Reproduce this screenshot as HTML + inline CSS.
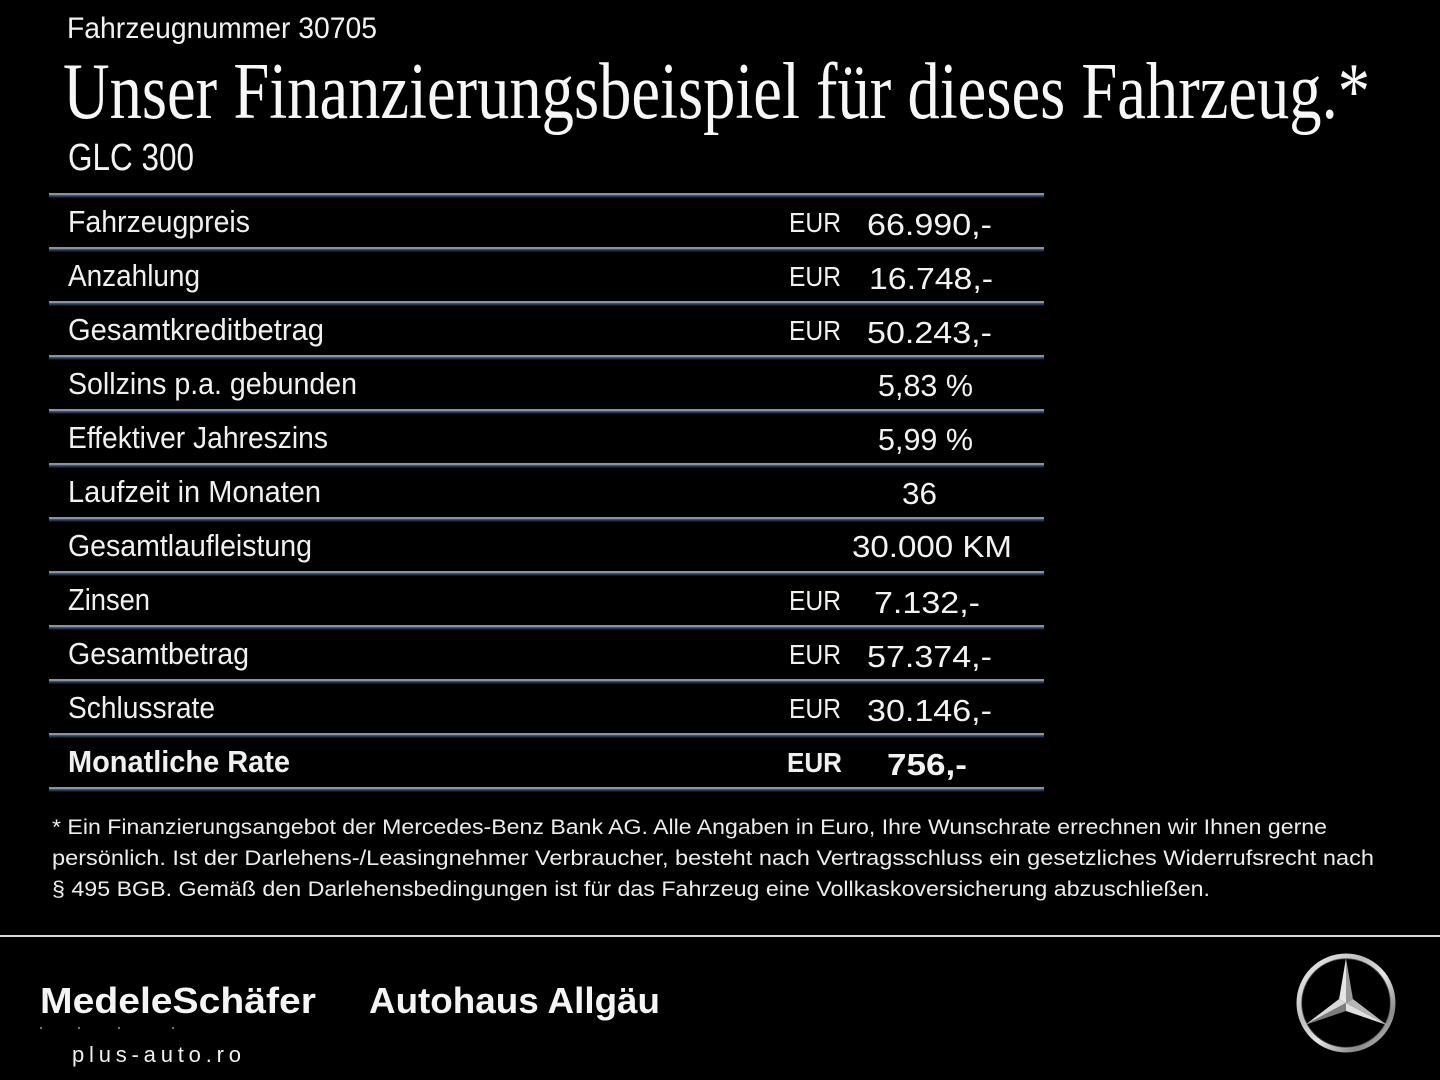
<!DOCTYPE html>
<html>
<head>
<meta charset="utf-8">
<style>
  html,body{margin:0;padding:0;background:#000;}
  body{width:1440px;height:1080px;overflow:hidden;}
  svg{display:block;}
  .sans{font-family:"Liberation Sans",sans-serif;}
  .serif{font-family:"Liberation Serif",serif;}
</style>
</head>
<body>
<svg width="1440" height="1080" viewBox="0 0 1440 1080" xmlns="http://www.w3.org/2000/svg">
  <defs>
    <linearGradient id="ring" x1="0" y1="0" x2="1" y2="1">
      <stop offset="0" stop-color="#f4f4f4"/>
      <stop offset="0.35" stop-color="#bdbdbd"/>
      <stop offset="0.55" stop-color="#e6e6e6"/>
      <stop offset="0.8" stop-color="#8a8a8a"/>
      <stop offset="1" stop-color="#d0d0d0"/>
    </linearGradient>
  </defs>
  <rect width="1440" height="1080" fill="#000"/>

  <!-- header -->
  <text class="sans" x="67" y="38" font-size="30" fill="#f2f2f2" textLength="310" lengthAdjust="spacingAndGlyphs">Fahrzeugnummer 30705</text>
  <text class="serif" x="63" y="118" font-size="80" fill="#f7f7f7" textLength="1307" lengthAdjust="spacingAndGlyphs">Unser Finanzierungsbeispiel für dieses Fahrzeug.*</text>
  <text class="sans" x="68" y="170" font-size="38" fill="#f2f2f2" textLength="126" lengthAdjust="spacingAndGlyphs">GLC 300</text>

  <!-- table lines -->
  <g>
    <rect x="49" y="193" width="995" height="2.4" fill="#8c939c"/><rect x="49" y="195.4" width="995" height="2" fill="#1f3654"/>
    <rect x="49" y="247" width="995" height="2.4" fill="#8c939c"/><rect x="49" y="249.4" width="995" height="2" fill="#1f3654"/>
    <rect x="49" y="301" width="995" height="2.4" fill="#8c939c"/><rect x="49" y="303.4" width="995" height="2" fill="#1f3654"/>
    <rect x="49" y="355" width="995" height="2.4" fill="#8c939c"/><rect x="49" y="357.4" width="995" height="2" fill="#1f3654"/>
    <rect x="49" y="409" width="995" height="2.4" fill="#8c939c"/><rect x="49" y="411.4" width="995" height="2" fill="#1f3654"/>
    <rect x="49" y="463" width="995" height="2.4" fill="#8c939c"/><rect x="49" y="465.4" width="995" height="2" fill="#1f3654"/>
    <rect x="49" y="517" width="995" height="2.4" fill="#8c939c"/><rect x="49" y="519.4" width="995" height="2" fill="#1f3654"/>
    <rect x="49" y="571" width="995" height="2.4" fill="#8c939c"/><rect x="49" y="573.4" width="995" height="2" fill="#1f3654"/>
    <rect x="49" y="625" width="995" height="2.4" fill="#8c939c"/><rect x="49" y="627.4" width="995" height="2" fill="#1f3654"/>
    <rect x="49" y="679" width="995" height="2.4" fill="#8c939c"/><rect x="49" y="681.4" width="995" height="2" fill="#1f3654"/>
    <rect x="49" y="733" width="995" height="2.4" fill="#8c939c"/><rect x="49" y="735.4" width="995" height="2" fill="#1f3654"/>
    <rect x="49" y="787" width="995" height="2.4" fill="#8c939c"/><rect x="49" y="789.4" width="995" height="2" fill="#1f3654"/>
  </g>

  <!-- labels -->
  <g class="sans" font-size="31" fill="#f0f0f0">
    <text x="68" y="232" textLength="182" lengthAdjust="spacingAndGlyphs">Fahrzeugpreis</text>
    <text x="68" y="286" textLength="132" lengthAdjust="spacingAndGlyphs">Anzahlung</text>
    <text x="68" y="340" textLength="256" lengthAdjust="spacingAndGlyphs">Gesamtkreditbetrag</text>
    <text x="68" y="394" textLength="289" lengthAdjust="spacingAndGlyphs">Sollzins p.a. gebunden</text>
    <text x="68" y="448" textLength="260" lengthAdjust="spacingAndGlyphs">Effektiver Jahreszins</text>
    <text x="68" y="502" textLength="253" lengthAdjust="spacingAndGlyphs">Laufzeit in Monaten</text>
    <text x="68" y="556" textLength="244" lengthAdjust="spacingAndGlyphs">Gesamtlaufleistung</text>
    <text x="68" y="610" textLength="82" lengthAdjust="spacingAndGlyphs">Zinsen</text>
    <text x="68" y="664" textLength="181" lengthAdjust="spacingAndGlyphs">Gesamtbetrag</text>
    <text x="68" y="718" textLength="147" lengthAdjust="spacingAndGlyphs">Schlussrate</text>
    <text x="68" y="772" font-weight="bold" textLength="222" lengthAdjust="spacingAndGlyphs">Monatliche Rate</text>
  </g>

  <!-- EUR -->
  <g class="sans" font-size="28" fill="#f0f0f0">
    <text x="789" y="232" textLength="52" lengthAdjust="spacingAndGlyphs">EUR</text>
    <text x="789" y="286" textLength="52" lengthAdjust="spacingAndGlyphs">EUR</text>
    <text x="789" y="340" textLength="52" lengthAdjust="spacingAndGlyphs">EUR</text>
    <text x="789" y="610" textLength="52" lengthAdjust="spacingAndGlyphs">EUR</text>
    <text x="789" y="664" textLength="52" lengthAdjust="spacingAndGlyphs">EUR</text>
    <text x="789" y="718" textLength="52" lengthAdjust="spacingAndGlyphs">EUR</text>
    <text x="787" y="772" font-weight="bold" textLength="55" lengthAdjust="spacingAndGlyphs">EUR</text>
  </g>

  <!-- values -->
  <g class="sans" font-size="31" fill="#f2f2f2">
    <text x="867" y="235" textLength="125" lengthAdjust="spacingAndGlyphs">66.990,-</text>
    <text x="869" y="289" textLength="124" lengthAdjust="spacingAndGlyphs">16.748,-</text>
    <text x="867" y="343" textLength="125" lengthAdjust="spacingAndGlyphs">50.243,-</text>
    <text x="878" y="396" textLength="95" lengthAdjust="spacingAndGlyphs">5,83 %</text>
    <text x="878" y="450" textLength="95" lengthAdjust="spacingAndGlyphs">5,99 %</text>
    <text x="902" y="504" textLength="35" lengthAdjust="spacingAndGlyphs">36</text>
    <text x="852" y="557" textLength="160" lengthAdjust="spacingAndGlyphs">30.000 KM</text>
    <text x="874" y="613" textLength="106" lengthAdjust="spacingAndGlyphs">7.132,-</text>
    <text x="867" y="667" textLength="125" lengthAdjust="spacingAndGlyphs">57.374,-</text>
    <text x="867" y="721" textLength="125" lengthAdjust="spacingAndGlyphs">30.146,-</text>
    <text x="887" y="775" font-weight="bold" textLength="80" lengthAdjust="spacingAndGlyphs">756,-</text>
  </g>

  <!-- footnote -->
  <g class="sans" font-size="21" fill="#ededed">
    <text x="52" y="834" textLength="1275" lengthAdjust="spacingAndGlyphs">* Ein Finanzierungsangebot der Mercedes-Benz Bank AG. Alle Angaben in Euro, Ihre Wunschrate errechnen wir Ihnen gerne</text>
    <text x="52" y="865" textLength="1322" lengthAdjust="spacingAndGlyphs">persönlich. Ist der Darlehens-/Leasingnehmer Verbraucher, besteht nach Vertragsschluss ein gesetzliches Widerrufsrecht nach</text>
    <text x="52" y="896" textLength="1158" lengthAdjust="spacingAndGlyphs">§ 495 BGB. Gemäß den Darlehensbedingungen ist für das Fahrzeug eine Vollkaskoversicherung abzuschließen.</text>
  </g>

  <!-- footer separator -->
  <rect x="0" y="935" width="1440" height="2" fill="#d6d6d6"/>

  <!-- logos -->
  <text class="sans" x="40" y="1013" font-size="36" font-weight="bold" fill="#f4f4f4" textLength="276" lengthAdjust="spacingAndGlyphs">MedeleSchäfer</text>
  <text class="sans" x="369" y="1013" font-size="36" font-weight="bold" fill="#f4f4f4" textLength="291" lengthAdjust="spacingAndGlyphs">Autohaus Allgäu</text>
  <g fill="#777">
    <rect x="40" y="1027" width="2" height="2"/><rect x="78" y="1027" width="2" height="2"/><rect x="118" y="1027" width="2" height="2"/><rect x="172" y="1027" width="2" height="2"/>
  </g>
  <text class="sans" x="72" y="1062" font-size="22" fill="#f0f0f0" textLength="169" lengthAdjust="spacing">plus-auto.ro</text>

  <!-- Mercedes star -->
  <g>
    <circle cx="1346" cy="1003" r="47" fill="none" stroke="url(#ring)" stroke-width="5"/>
    <circle cx="1346" cy="1003" r="44.3" fill="none" stroke="#555" stroke-width="0.8"/>
    <polygon points="1346,958 1339.1,999 1346,1003" fill="#e6e6e6"/>
    <polygon points="1346,958 1352.9,999 1346,1003" fill="#9a9a9a"/>
    <polygon points="1387,1025 1352.9,999 1346,1003" fill="#b5b5b5"/>
    <polygon points="1387,1025 1346,1011 1346,1003" fill="#e0e0e0"/>
    <polygon points="1305,1025 1339.1,999 1346,1003" fill="#d8d8d8"/>
    <polygon points="1305,1025 1346,1011 1346,1003" fill="#7c7c7c"/>
  </g>
</svg>
</body>
</html>
